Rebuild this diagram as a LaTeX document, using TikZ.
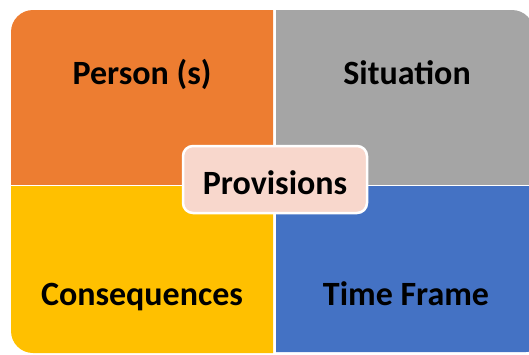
\documentclass[tikz,border=0pt]{standalone}
\usepackage{fontspec}
\setmainfont{Carlito}
\definecolor{qorange}{HTML}{ED7D31}
\definecolor{qgray}{HTML}{A5A5A5}
\definecolor{qyellow}{HTML}{FFC000}
\definecolor{qblue}{HTML}{4472C4}
\definecolor{provfill}{HTML}{F8D7CC}
\tikzset{
  label/.style={font=\bfseries\fontsize{34}{40}\selectfont, text=black, inner sep=0pt, anchor=base},
  centerbox/.style={draw=white, line width=2.5pt, fill=provfill, rounded corners=10pt}
}
\begin{document}
\begin{tikzpicture}[x=1pt,y=-1pt]
  \useasboundingbox (0,0) rectangle (529,354);
  % four quadrants cut out of one rounded panel
  \def\panel{(11,10) rectangle (534,353)}
  \begin{scope}
    \clip (0,0) rectangle (273,184);
    \fill[qorange, rounded corners=22pt] \panel;
  \end{scope}
  \begin{scope}
    \clip (276,0) rectangle (540,184);
    \fill[qgray, rounded corners=22pt] \panel;
  \end{scope}
  \begin{scope}
    \clip (0,186) rectangle (273,360);
    \fill[qyellow, rounded corners=22pt] \panel;
  \end{scope}
  \begin{scope}
    \clip (276,186) rectangle (540,360);
    \fill[qblue, rounded corners=22pt] (11,10) rectangle (548,352);
  \end{scope}
  % quadrant labels
  \node[label] (person) at (142,84) {Person (s)};
  \node[label] (situation) at (407,84) {Situation};
  \node[label] (conseq) at (142,305) {Consequences};
  \node[label] (timeframe) at (406,305) {Time Frame};
  % central box
  \draw[centerbox] (183,146) rectangle (367,213);
  \node[label] (prov) at (275,194) {Provisions};
\end{tikzpicture}
\end{document}
